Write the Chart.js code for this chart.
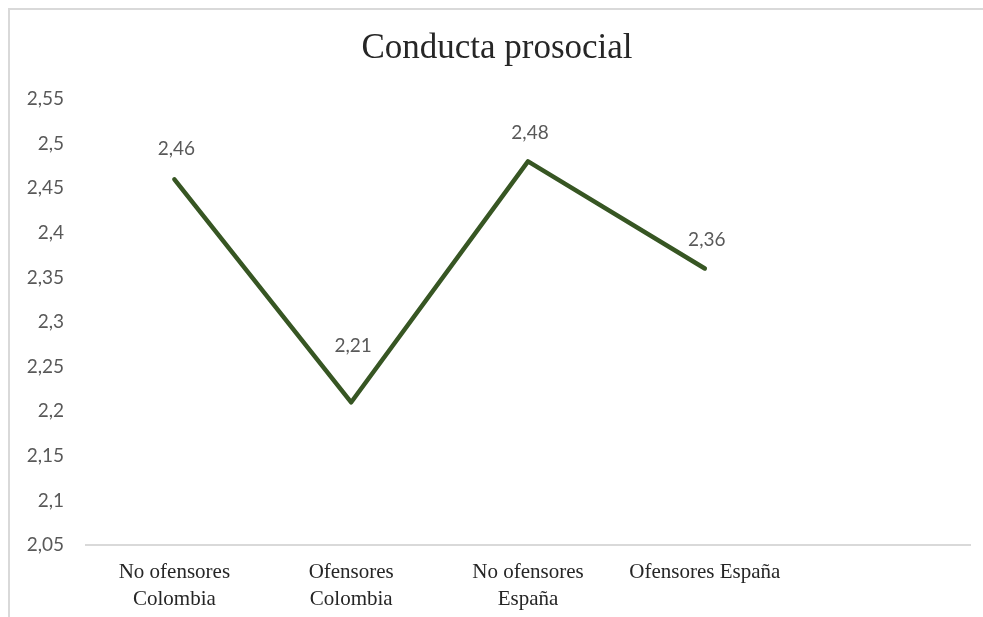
<!DOCTYPE html>
<html>
<head>
<meta charset="utf-8">
<title>Conducta prosocial</title>
<script src="https://cdn.jsdelivr.net/npm/chart.js@4.4.1/dist/chart.umd.min.js"></script>
<style>
  html, body { margin: 0; padding: 0; background: #fff; overflow: hidden; }
  #frame {
    position: absolute; left: 8px; top: 8px; width: 2000px; height: 2000px;
    border-left: 2px solid #d9d9d9; border-top: 2px solid #d9d9d9;
  }
  #graph { position: absolute; left: 0; top: 0; }
</style>
</head>
<body>
<div id="frame"></div>
<canvas id="graph" width="983" height="617"></canvas>
<script>
// groups on the x axis (arrays are split over two lines)
const categories = [
  ['No ofensores', 'Colombia'],
  ['Ofensores', 'Colombia'],
  ['No ofensores', 'España'],
  'Ofensores España'
];
// mean prosocial behaviour score per group
const prosocial = [2.46, 2.21, 2.48, 2.36];
// y axis ticks
const yTicks = [2.05, 2.1, 2.15, 2.2, 2.25, 2.3, 2.35, 2.4, 2.45, 2.5, 2.55];

const comma = v => String(Math.round(v * 100) / 100).replace('.', ',');

// writes each value above its point
const valueLabels = {
  id: 'valueLabels',
  afterDatasetsDraw(chart, args, opts) {
    const ctx = chart.ctx;
    const meta = chart.getDatasetMeta(0);
    const values = chart.data.datasets[0].data;
    ctx.save();
    ctx.font = opts.font;
    ctx.fillStyle = opts.color;
    ctx.textAlign = 'center';
    ctx.textBaseline = 'middle';
    meta.data.forEach((pt, i) => {
      ctx.fillText(comma(values[i]), pt.x + 2, pt.y - opts.offsets[i]);
    });
    ctx.restore();
  }
};

const ctx = document.querySelector('#graph');

new Chart(ctx, {
  type: 'line',
  data: {
    // one empty slot at the end, the axis runs on past the last group
    labels: categories.concat(['']),
    datasets: [{
      data: prosocial,
      borderColor: '#375623',
      borderWidth: 4.5,
      borderCapStyle: 'round',
      borderJoinStyle: 'round',
      pointRadius: 0,
      tension: 0,
      fill: false
    }]
  },
  plugins: [valueLabels],
  options: {
    responsive: false,
    animation: false,
    devicePixelRatio: 1,
    layout: { padding: { left: 24, right: 13, top: 0, bottom: 0 } },
    plugins: {
      legend: { display: false },
      tooltip: { enabled: false },
      title: {
        display: true,
        text: 'Conducta prosocial',
        color: '#262626',
        font: { family: '"Liberation Serif", "Times New Roman", serif', size: 35, weight: 'normal' },
        padding: { top: 28, bottom: 29 }
      },
      valueLabels: {
        font: '19px Lato, "Open Sans", sans-serif',
        color: '#595959',
        offsets: [30, 56, 29, 29]
      }
    },
    scales: {
      x: {
        offset: true,
        grid: { display: false, drawTicks: false },
        border: { display: true, color: '#d9d9d9', width: 2 },
        ticks: {
          color: '#262626',
          padding: 14,
          maxRotation: 0,
          autoSkip: false,
          font: { family: '"Liberation Serif", "Times New Roman", serif', size: 21, lineHeight: 1.3 }
        },
        afterFit(scale) { scale.height = 72; }
      },
      y: {
        min: 2.05,
        max: 2.55,
        grid: { display: false, drawTicks: false },
        border: { display: false },
        afterBuildTicks(scale) { scale.ticks = yTicks.map(v => ({ value: v })); },
        afterFit(scale) { scale.width = 62; },
        ticks: {
          color: '#595959',
          padding: 22,
          font: { family: 'Lato, "Open Sans", sans-serif', size: 19 },
          callback: v => comma(v)
        }
      }
    }
  }
});
</script>
</body>
</html>
